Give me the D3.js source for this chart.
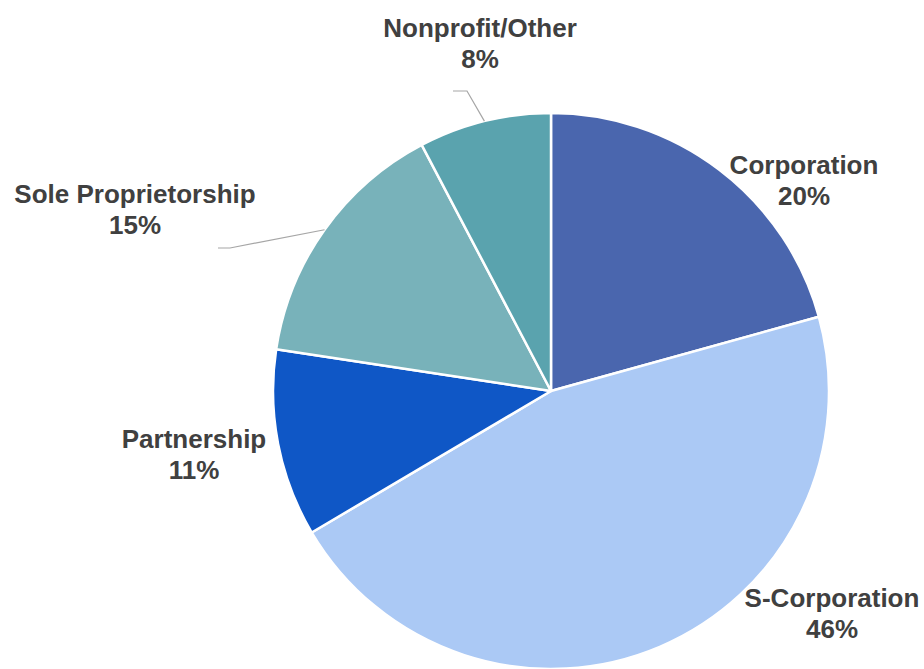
<!DOCTYPE html>
<html>
<head>
<meta charset="utf-8">
<script src="https://cdn.jsdelivr.net/npm/d3@7"></script>
<style>
  body { margin: 0; background: #fff; }
  text { font-family: "Liberation Sans", Arial, sans-serif; font-weight: bold; fill: #404040; }
</style>
</head>
<body>
<svg id="chart" width="924" height="669"></svg>
<script>
// slice data, clockwise from 12 o'clock
var categories = ["Corporation", "S-Corporation", "Partnership", "Sole Proprietorship", "Nonprofit/Other"];
var shares = [20.7, 45.8, 10.9, 14.9, 7.7];
var pctLabels = ["20%", "46%", "11%", "15%", "8%"];
var colors = ["#4a66ae", "#abc9f5", "#0f57c6", "#78b2ba", "#5aa3ae"];

// label layout (center x, first baseline y), leader elbow if any
var labelLayout = [
    {x: 804, y: 174},
    {x: 832, y: 607},
    {x: 194, y: 448},
    {x: 135, y: 203, elbow: [230, 248], end: [218, 248]},
    {x: 480, y: 37, elbow: [467, 91], end: [453, 91]}
];

var space = {cx: 551, cy: 391, r: 278};

var svg = d3.select("#chart");
var g = svg.append("g")
    .attr("transform", "translate(" + space.cx + "," + space.cy + ")");

var pie = d3.pie().sort(null).value(function (d) { return d; });
var arcs = pie(shares);
var arc = d3.arc().innerRadius(0).outerRadius(space.r);

g.selectAll("path.slice")
    .data(arcs)
    .enter()
    .append("path")
    .attr("class", "slice")
    .attr("d", arc)
    .attr("fill", function (d, i) { return colors[i]; })
    .attr("stroke", "#fff")
    .attr("stroke-width", 2.5)
    .attr("stroke-linejoin", "round");

//leader lines
arcs.forEach(function (d, i) {
    var lay = labelLayout[i];
    if (!lay.elbow) return;
    var mid = (d.startAngle + d.endAngle) / 2;
    var px = space.cx + space.r * Math.sin(mid),
        py = space.cy - space.r * Math.cos(mid);
    svg.append("path")
        .attr("d", d3.line()([[px, py], lay.elbow, lay.end]))
        .attr("fill", "none")
        .attr("stroke", "#a6a6a6")
        .attr("stroke-width", 1.2);
});

//labels
var labels = svg.selectAll("text.lbl")
    .data(categories)
    .enter()
    .append("text")
    .attr("class", "lbl")
    .attr("text-anchor", "middle")
    .attr("font-size", 26)
    .attr("x", function (d, i) { return labelLayout[i].x; })
    .attr("y", function (d, i) { return labelLayout[i].y; });

labels.append("tspan")
    .attr("x", function (d, i) { return labelLayout[i].x; })
    .text(function (d) { return d; });
labels.append("tspan")
    .attr("x", function (d, i) { return labelLayout[i].x; })
    .attr("dy", 31)
    .text(function (d, i) { return pctLabels[i]; });
</script>
</body>
</html>
